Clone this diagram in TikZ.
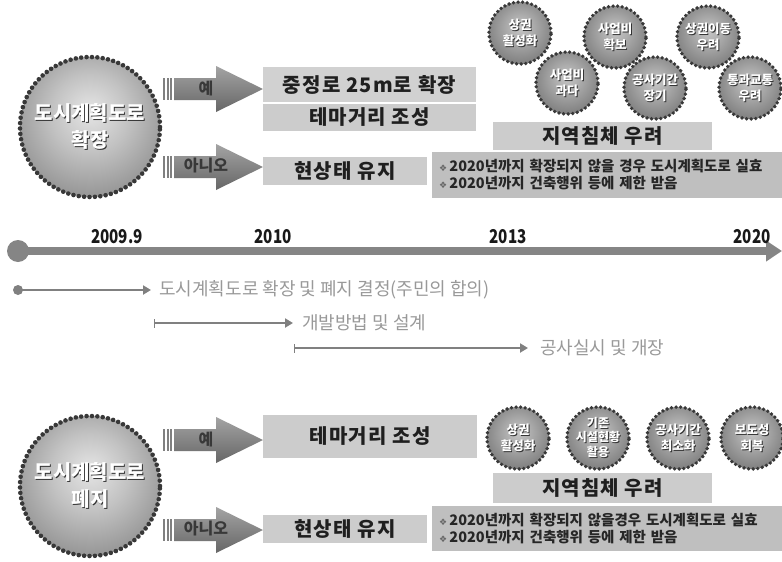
\documentclass[tikz,border=0pt]{standalone}
\usepackage{fontspec}
\setmainfont{Noto Sans CJK KR}
\newfontfamily\numf[FakeStretch=0.8]{Noto Sans CJK KR}
\newfontfamily\boxf[LetterSpace=6]{Noto Sans CJK KR}
\newfontfamily\djv{DejaVu Sans}
\usetikzlibrary{arrows.meta}
\pgfdeclareradialshading{ballshade}{\pgfpoint{0bp}{6bp}}{color(0bp)=(black!10); color(14bp)=(black!24); color(48bp)=(black!64); color(75bp)=(black!64)}
\pgfdeclareradialshading{smallshade}{\pgfpoint{0bp}{5bp}}{color(0bp)=(black!22); color(18bp)=(black!40); color(48bp)=(black!70); color(75bp)=(black!70)}
\newcommand\shd[1]{\makebox[0pt][l]{\hspace{1pt}\raisebox{-1pt}{\textcolor{black!80}{#1}}}\textcolor{white}{#1}}
\newcommand\blkarrow[3]{%
  \foreach \xx in {163,166.5,170}{\fill[black!50] (\xx,#1-11) rectangle ++(2,22);}
  \shade[top color=black!36, bottom color=black!60] (174,#1-11) -- (216,#1-11) -- (216,#1-23) -- (263,#1) -- (216,#1+23) -- (216,#1+11) -- (174,#1+11) -- cycle;
  \node[arrtxt] (#2) at (206,#1-1) {#3};
}
\newcommand\nb{{\djv\fontsize{9}{9}\selectfont\textcolor{black!60}{❖}}\,}
\begin{document}
\begin{tikzpicture}[x=1pt,y=-1pt,
  ball/.style={circle, inner sep=0pt, shade, draw=black!78, line cap=round, align=center},
  bigball/.style={ball, shading=ballshade, minimum size=140pt, font=\fontsize{20}{27}\selectfont\bfseries, line width=4.6pt, dash pattern=on 0pt off 5.4pt},
  smallball/.style={ball, shading=smallshade, minimum size=62pt, font=\fontsize{12.5}{16}\selectfont\bfseries, line width=3.8pt, dash pattern=on 0pt off 4.6pt},
  box/.style={rectangle, fill=black!20, inner sep=0pt, font=\boxf\fontsize{20}{20}\selectfont\bfseries, text=black!88},
  notes/.style={rectangle, fill=black!25, inner sep=0pt, minimum width=350pt, minimum height=46pt, font=\fontsize{14.5}{17}\selectfont\bfseries, text=black!85, align=left, text width=336pt},
  arrtxt/.style={font=\fontsize{16}{16}\selectfont\bfseries, text=black!78, inner sep=0pt},
  yr/.style={font=\numf\bfseries\fontsize{19}{19}\selectfont, text=black!90, inner sep=0pt},
  subline/.style={draw=black!50, line width=2.8pt},
  sublbl/.style={font=\fontsize{18}{18}\selectfont, text=black!40, inner sep=0pt, anchor=west}
]
\useasboundingbox (0,0) rectangle (782,562);
\fill[white] (0,0) rectangle (782,562);

% ---------- top section ----------
\node[bigball] (c1) at (90,127) {\shd{도시계획도로}\\\shd{확장}};
\blkarrow{89}{yes1}{예}
\blkarrow{167}{no1}{아니오}
\node[box, fill=black!18, minimum width=213pt, minimum height=35pt] (b1) at (369.5,84.5) {중정로 25m로 확장};
\node[box, minimum width=213pt, minimum height=27pt] (b2) at (369.5,117.5) {테마거리 조성};
\node[box, minimum width=164pt, minimum height=28pt] (b3) at (345,171) {현상태 유지};
\node[notes] (n1) at (607,175) {\nb 2020년까지 확장되지 않을 경우 도시계획도로 실효\\\nb 2020년까지 건축행위 등에 제한 받음};
\node[box, minimum width=219pt, minimum height=28pt] (r1) at (602.5,136) {지역침체 우려};

\node[smallball] (s1) at (520,33) {\shd{상권}\\\shd{활성화}};
\node[smallball] (s2) at (615,37) {\shd{사업비}\\\shd{확보}};
\node[smallball] (s3) at (708,37) {\shd{상권이동}\\\shd{우려}};
\node[smallball] (s4) at (567,83) {\shd{사업비}\\\shd{과다}};
\node[smallball] (s5) at (655,88) {\shd{공사기간}\\\shd{장기}};
\node[smallball] (s6) at (750,88) {\shd{통과교통}\\\shd{우려}};

% ---------- timeline ----------
\coordinate (t0) at (18,251);
\coordinate (t1) at (782,251);
\fill[black!48] (t0) circle (11);
\draw[draw=black!48, line width=8pt, -{Triangle[length=16pt,width=20pt]}] (t0) -- (t1);
\node[yr] (y1) at (117,237) {2009.9};
\node[yr] (y2) at (273,237) {2010};
\node[yr] (y3) at (508,237) {2013};
\node[yr] (y4) at (752,237) {2020};

\coordinate (a0) at (18,290);
\coordinate (a1) at (151,290);
\fill[black!50] (a0) circle (5);
\draw[subline, -{Triangle[length=8pt,width=9pt]}] (a0) -- (a1);
\node[sublbl] (l1) at (159,290) {도시계획도로 확장 및 폐지 결정(주민의 합의)};

\coordinate (b0) at (154,323);
\coordinate (b9) at (293,323);
\draw[subline, {Bar[width=9pt,line width=1.4pt]}-{Triangle[length=8pt,width=9pt]}] (b0) -- (b9);
\node[sublbl] (l2) at (302,323) {개발방법 및 설계};

\coordinate (d0) at (294,348);
\coordinate (d1) at (528,348);
\draw[subline, {Bar[width=9pt,line width=1.4pt]}-{Triangle[length=8pt,width=9pt]}] (d0) -- (d1);
\node[sublbl] (l3) at (540,348) {공사실시 및 개장};

% ---------- bottom section ----------
\node[bigball] (c2) at (90,486) {\shd{도시계획도로}\\\shd{폐지}};
\blkarrow{440}{yes2}{예}
\blkarrow{530}{no2}{아니오}
\node[box, minimum width=214pt, minimum height=43pt] (b4) at (370,436.5) {테마거리 조성};
\node[box, minimum width=164pt, minimum height=28pt] (b5) at (345,529) {현상태 유지};
\node[notes, minimum height=45pt] (n2) at (607,528.5) {\nb 2020년까지 확장되지 않을경우 도시계획도로 실효\\\nb 2020년까지 건축행위 등에 제한 받음};
\node[box, minimum width=219pt, minimum height=30pt] (r2) at (602.5,488) {지역침체 우려};

\node[smallball] (p1) at (518,438) {\shd{상권}\\\shd{활성화}};
\node[smallball, font=\fontsize{12}{14.5}\selectfont\bfseries] (p2) at (598,438) {\shd{기존}\\\shd{시설현황}\\\shd{활용}};
\node[smallball] (p3) at (678,438) {\shd{공사기간}\\\shd{최소화}};
\node[smallball] (p4) at (752,438) {\shd{보도성}\\\shd{회복}};
\end{tikzpicture}
\end{document}
